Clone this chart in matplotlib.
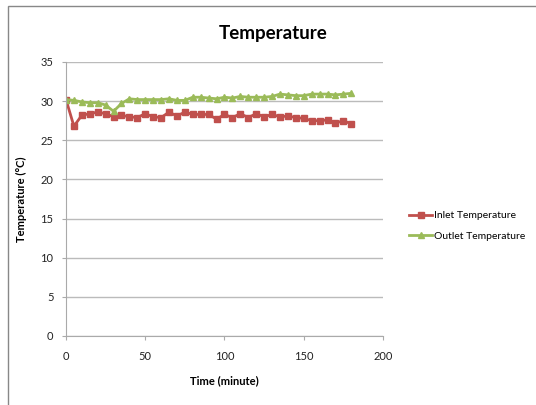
import numpy as np
import matplotlib
matplotlib.use("Agg")
import matplotlib.pyplot as plt
from matplotlib.patches import Rectangle

# data (every 5 minutes)
time = list(range(0, 185, 5))
inlet = [30.2, 26.8, 28.2, 28.4, 28.6, 28.4, 28.0, 28.2, 28.0, 27.9,
         28.4, 28.0, 27.9, 28.6, 28.1, 28.6, 28.3, 28.3, 28.3, 27.7,
         28.3, 27.9, 28.4, 27.9, 28.4, 28.0, 28.3, 28.0, 28.1, 27.9,
         27.8, 27.5, 27.5, 27.6, 27.2, 27.5, 27.1]
outlet = [30.2, 30.1, 29.9, 29.8, 29.8, 29.5, 28.7, 29.7, 30.3, 30.2,
          30.2, 30.2, 30.2, 30.3, 30.1, 30.1, 30.5, 30.5, 30.4, 30.3,
          30.5, 30.4, 30.6, 30.5, 30.5, 30.5, 30.6, 30.9, 30.8, 30.7,
          30.7, 30.9, 30.9, 30.9, 30.8, 30.9, 31.0]
xticks = [0, 50, 100, 150, 200]
yticks = [0, 5, 10, 15, 20, 25, 30, 35]

plt.rcParams['font.family'] = ['Lato', 'DejaVu Sans']

fig = plt.figure(figsize=(5.36, 4.05), dpi=100)
# chart border (only left and top visible in the picture)
fig.patches.append(Rectangle((8/536, -0.1), 1.2, 1 - 6/405 + 0.1,
                             transform=fig.transFigure, fill=False,
                             edgecolor='#888888', linewidth=1.0))

ax = fig.add_axes([66/536, 1 - 336/405, (383 - 66)/536, (336 - 62)/405])

ax.plot(time, inlet, color='#C0504D', marker='s', markersize=5, linewidth=2,
        label='Inlet Temperature')
ax.plot(time, outlet, color='#9BBB59', marker='^', markersize=5, linewidth=2,
        label='Outlet Temperature')

ax.set_xlim(0, 200)
ax.set_ylim(0, 35)
ax.set_xticks(xticks)
ax.set_yticks(yticks)
ax.yaxis.grid(True, color='#BBBBBB', linewidth=1)
ax.set_axisbelow(True)
for s in ['top', 'right']:
    ax.spines[s].set_visible(False)
for s in ['left', 'bottom']:
    ax.spines[s].set_color('#AAAAAA')
ax.tick_params(axis='both', labelsize=8, color='#AAAAAA', length=3,
               labelcolor='#222222')
ax.tick_params(axis='x', pad=8)
ax.tick_params(axis='y', pad=6)

ax.set_xlabel('Time (minute)', fontsize=8, fontweight='bold', labelpad=9)
ax.set_ylabel('Temperature (°C)', fontsize=8, fontweight='bold', labelpad=10)
fig.text(273/536, 1 - 33/405, 'Temperature', fontsize=13.5, fontweight='bold',
         ha='center', va='center')

ax.legend(loc='center left', bbox_to_anchor=(400/536, 1 - 226/405),
          bbox_transform=fig.transFigure, frameon=False, fontsize=7.5,
          handlelength=2.2, handletextpad=0.2, labelspacing=1.1)

fig.savefig('out.png', dpi=100)
